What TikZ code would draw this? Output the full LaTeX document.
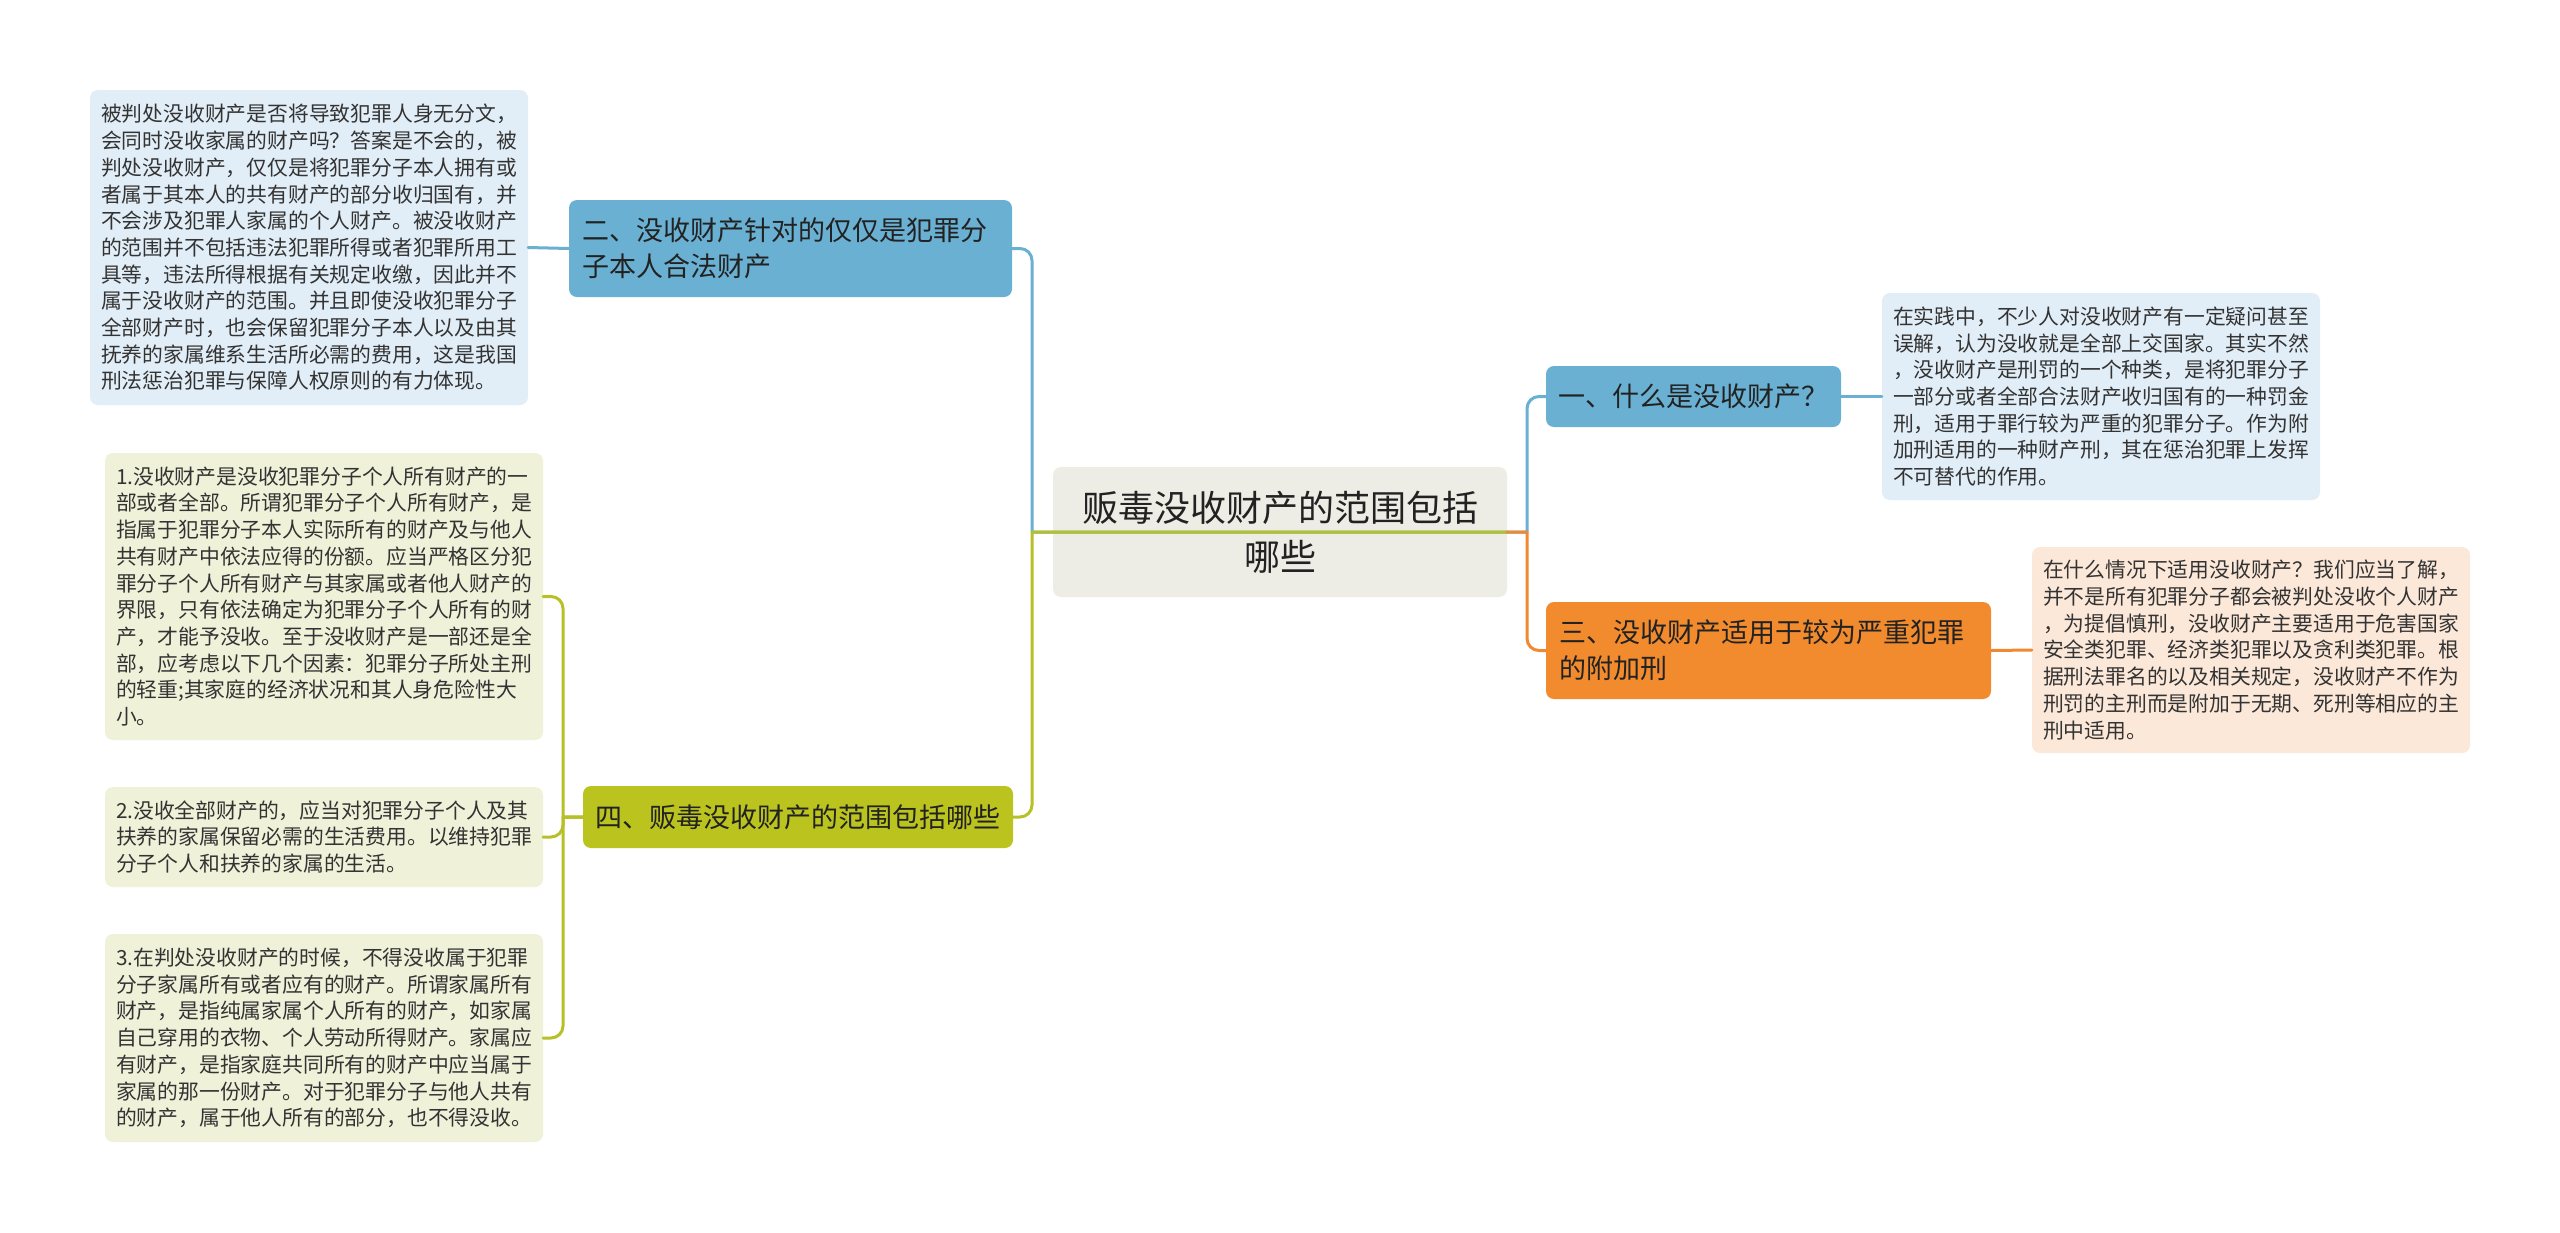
\documentclass[tikz,border=0pt]{standalone}
\usepackage{fontspec}
\setmainfont{Noto Sans CJK SC}
\definecolor{blueN}{RGB}{106,176,210}
\definecolor{blueL}{RGB}{226,238,247}
\definecolor{orangeN}{RGB}{242,139,46}
\definecolor{orangeL}{RGB}{252,232,217}
\definecolor{greenN}{RGB}{187,195,30}
\definecolor{greenL}{RGB}{239,241,217}
\definecolor{rootF}{RGB}{238,237,229}
\definecolor{cBlue}{RGB}{106,176,210}
\definecolor{cGreen}{RGB}{184,192,40}
\definecolor{cOrange}{RGB}{239,137,50}
\definecolor{txt}{RGB}{51,51,51}
\definecolor{dark}{RGB}{34,34,34}
\tikzset{
  lbl/.style={font=\fontsize{20.8}{26.7}\selectfont, text=txt, align=left,
    inner sep=0pt, rounded corners=8pt, text width=416pt, minimum width=438pt},
  mainbox/.style={font=\fontsize{27}{36}\selectfont, text=dark, align=left,
    inner sep=0pt, rounded corners=8pt},
  conn/.style={line width=3pt, line cap=round, line join=round}
}
\begin{document}
\begin{tikzpicture}[x=1pt,y=-1pt]
\fill[white] (0,0) rectangle (2560,1232);
\useasboundingbox (0,0) rectangle (2560,1232);

% root
\node[fill=rootF, rounded corners=8pt, inner sep=0pt, minimum width=454pt, minimum height=130pt,
  font=\fontsize{36}{49}\selectfont, text=dark, align=center] (root) at (1280,532)
  {贩毒没收财产的范围包括\\哪些};

% main branches
\node[mainbox, fill=blueN, minimum width=443pt, minimum height=97pt, text width=417pt] (b2) at (790.5,248.5)
  {二、没收财产针对的仅仅是犯罪分\\子本人合法财产};
\node[mainbox, fill=greenN, minimum width=430pt, minimum height=62pt, text width=405pt, align=center] (b4) at (798,817)
  {四、贩毒没收财产的范围包括哪些};
\node[mainbox, fill=blueN, minimum width=295pt, minimum height=61pt, text width=270pt] (b1) at (1693.5,396.5)
  {一、什么是没收财产？};
\node[mainbox, fill=orangeN, minimum width=445pt, minimum height=97pt, text width=419pt] (b3) at (1768.5,650.5)
  {三、没收财产适用于较为严重犯罪\\的附加刑};

% text boxes
\node[lbl, fill=blueL, minimum height=315pt] (b2t) at (309,247.5)
  {被判处没收财产是否将导致犯罪人身无分文，\\
   会同时没收家属的财产吗？答案是不会的，被\\
   判处没收财产，仅仅是将犯罪分子本人拥有或\\
   者属于其本人的共有财产的部分收归国有，并\\
   不会涉及犯罪人家属的个人财产。被没收财产\\
   的范围并不包括违法犯罪所得或者犯罪所用工\\
   具等，违法所得根据有关规定收缴，因此并不\\
   属于没收财产的范围。并且即使没收犯罪分子\\
   全部财产时，也会保留犯罪分子本人以及由其\\
   抚养的家属维系生活所必需的费用，这是我国\\
   刑法惩治犯罪与保障人权原则的有力体现。};

\node[lbl, fill=greenL, minimum height=287pt] (b4t1) at (324,596.5)
  {1.没收财产是没收犯罪分子个人所有财产的一\\
   部或者全部。所谓犯罪分子个人所有财产，是\\
   指属于犯罪分子本人实际所有的财产及与他人\\
   共有财产中依法应得的份额。应当严格区分犯\\
   罪分子个人所有财产与其家属或者他人财产的\\
   界限，只有依法确定为犯罪分子个人所有的财\\
   产，才能予没收。至于没收财产是一部还是全\\
   部，应考虑以下几个因素：犯罪分子所处主刑\\
   的轻重;其家庭的经济状况和其人身危险性大\\
   小。};

\node[lbl, fill=greenL, minimum height=100pt] (b4t2) at (324,837)
  {2.没收全部财产的，应当对犯罪分子个人及其\\
   扶养的家属保留必需的生活费用。以维持犯罪\\
   分子个人和扶养的家属的生活。};

\node[lbl, fill=greenL, minimum height=208pt] (b4t3) at (324,1038)
  {3.在判处没收财产的时候，不得没收属于犯罪\\
   分子家属所有或者应有的财产。所谓家属所有\\
   财产，是指纯属家属个人所有的财产，如家属\\
   自己穿用的衣物、个人劳动所得财产。家属应\\
   有财产，是指家庭共同所有的财产中应当属于\\
   家属的那一份财产。对于犯罪分子与他人共有\\
   的财产，属于他人所有的部分，也不得没收。};

\node[lbl, fill=blueL, minimum height=207pt] (b1t) at (2101,396.5)
  {在实践中，不少人对没收财产有一定疑问甚至\\
   误解，认为没收就是全部上交国家。其实不然\\
   ，没收财产是刑罚的一个种类，是将犯罪分子\\
   一部分或者全部合法财产收归国有的一种罚金\\
   刑，适用于罪行较为严重的犯罪分子。作为附\\
   加刑适用的一种财产刑，其在惩治犯罪上发挥\\
   不可替代的作用。};

\node[lbl, fill=orangeL, minimum height=206pt] (b3t) at (2251,650)
  {在什么情况下适用没收财产？我们应当了解，\\
   并不是所有犯罪分子都会被判处没收个人财产\\
   ，为提倡慎刑，没收财产主要适用于危害国家\\
   安全类犯罪、经济类犯罪以及贪利类犯罪。根\\
   据刑法罪名的以及相关规定，没收财产不作为\\
   刑罚的主刑而是附加于无期、死刑等相应的主\\
   刑中适用。};

% junction coordinates
\coordinate (jl) at (1032,532);
\coordinate (jr) at (1527,532);
\coordinate (jg) at (563,817);

% connectors: blue first, then green/orange on top
\draw[conn, cBlue] (root.east) -- (jl) [rounded corners=12pt] |- (b2.east);
\draw[conn, cBlue] (root.east) -- (jr) [rounded corners=12pt] |- (b1.west);
\draw[conn, cGreen] (root.east) -- (jl) [rounded corners=12pt] |- (b4.east);
\draw[conn, cOrange] (root.east) -- (jr) [rounded corners=12pt] |- (b3.west);

\draw[conn, cBlue] (b2.west) -- (b2t.east);
\draw[conn, cBlue] (b1.east) -- (b1t.west);
\draw[conn, cOrange] (b3.east) -- (b3t.west);

\draw[conn, cGreen] (b4.west) -- (jg) [rounded corners=12pt] |- (b4t1.east);
\draw[conn, cGreen] (b4.west) -- (jg) [rounded corners=12pt] |- (b4t2.east);
\draw[conn, cGreen] (b4.west) -- (jg) [rounded corners=12pt] |- (b4t3.east);
\end{tikzpicture}
\end{document}
